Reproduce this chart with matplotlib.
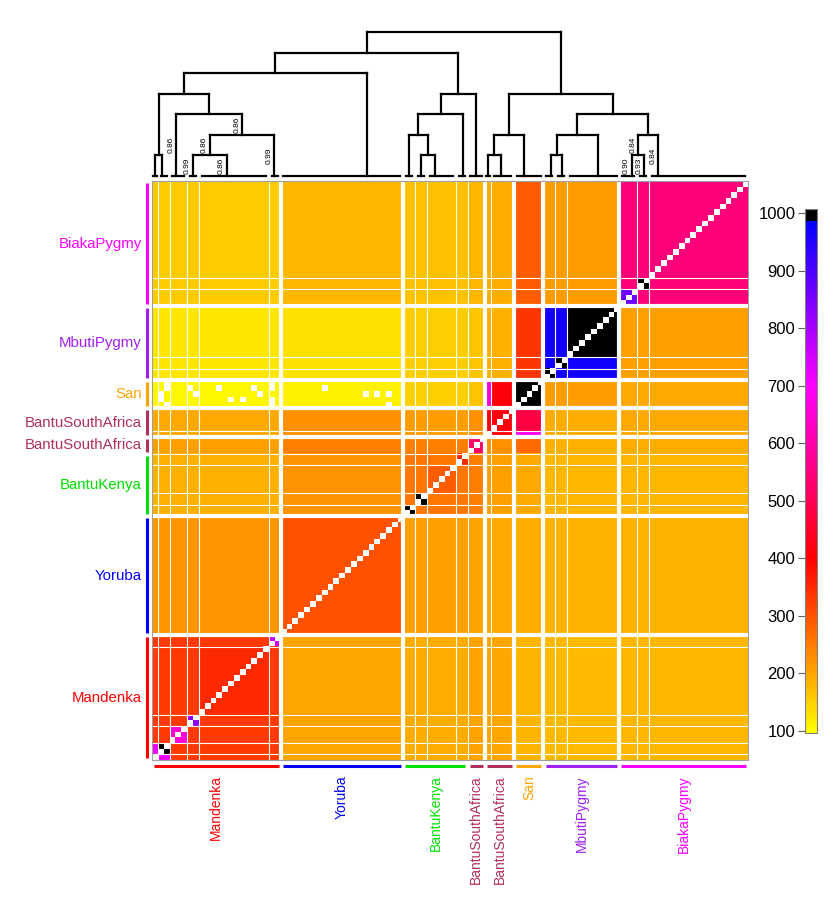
import numpy as np
import matplotlib
matplotlib.use("Agg")
import matplotlib.pyplot as plt
from matplotlib.colors import LinearSegmentedColormap, Normalize

plt.rcParams['font.family'] = ['Liberation Sans', 'DejaVu Sans']

# populations, in column order (left to right); rows run bottom to top
pop_names = ["Mandenka", "Yoruba", "BantuKenya", "BantuSouthAfrica",
             "BantuSouthAfrica", "San", "MbutiPygmy", "BiakaPygmy"]
pop_colors = ["#FF0000", "#0000FF", "#00E000", "#B03060",
              "#B03060", "#FFA500", "#A020F0", "#FF00FF"]
# population boundaries drawn with a thick white line (index of pop after the line)
thick_split = [1, 2, 4, 5, 6, 7]

# tree leaves (inferred clusters)
cluster_names = ["MandA", "MandB", "MandC", "MandD", "MandE", "MandF", "Yor",
                 "BKa", "BKb", "BKc", "BKd", "BSAs", "BSAa", "BSAb", "San",
                 "Mba", "Mbb", "Mbc", "Bia", "Bib", "Bic"]
cluster_pop = [0, 0, 0, 0, 0, 0, 1, 2, 2, 2, 2, 3, 4, 4, 5, 6, 6, 6, 7, 7, 7]
cluster_size = [1, 2, 3, 2, 12, 2, 21, 2, 2, 5, 2, 3, 1, 4, 5, 2, 2, 9, 3, 2, 17]
# leaf positions along the columns (in individuals)
leaf_pos = [0.5, 1.76, 4.1, 6.97, 12.78, 20.93, 36.75, 44.0, 46.0, 48.43,
            53.28, 55.4, 57.5, 59.73, 63.72, 68.29, 70.22, 76.28, 82.1, 84.25, 86.65]

# merges: (child, child, height)
merges = [("MandA", "MandB", 1), ("MandD", "MandE", 1), (22, "MandF", 2),
          ("MandC", 23, 3), (21, 24, 4), (25, "Yor", 5),
          ("BKb", "BKc", 1), ("BKa", 27, 2), (28, "BKd", 3), (29, "BSAs", 4),
          (26, 30, 6), ("BSAa", "BSAb", 1), (32, "San", 2),
          ("Mba", "Mbb", 1), (34, "Mbc", 2), ("Bia", "Bib", 1), (36, "Bic", 2),
          (35, 37, 3), (33, 38, 4), (31, 39, 7)]
# support values on branches (branch above the given node)
supports = {"MandC": "0.86", "MandD": "0.99", 22: "0.86", "MandE": "0.86",
            23: "0.86", "MandF": "0.99", "Bia": "0.90", 36: "0.84",
            "Bib": "0.93", "Bic": "0.84"}

# coancestry between populations: rows = recipient pop, cols = donor pop
pop_coanc = [
    # Mand  Yor   BK  BSAs  BSA   San  Mbuti Biaka
    [330, 200, 192, 202, 198, 182, 176, 180],    # Mandenka
    [218, 302, 207, 202, 197, 190, 185, 185],    # Yoruba
    [186, 222, 258, 248, 206, 196, 180, 180],    # BantuKenya
    [205, 245, 245, 480, 225, 272, 186, 190],    # BantuSouthAfrica (3)
    [195, 226, 210, 226, 415, 480, 190, 195],    # BantuSouthAfrica (5)
    [106, 112, 150, 165, 410, 1050, 212, 196],   # San
    [125, 132, 152, 165, 186, 335, 965, 207],    # MbutiPygmy
    [156, 180, 166, 180, 190, 290, 212, 545],    # BiakaPygmy
]
# cluster-level blocks that stand out (recipient cluster, donor cluster)
cluster_coanc = {("MandA", "MandB"): 720, ("MandB", "MandA"): 720,
                 ("MandB", "MandB"): 1050, ("MandC", "MandC"): 650,
                 ("MandD", "MandD"): 830, ("MandE", "MandE"): 350,
                 ("MandF", "MandF"): 760,
                 ("BKa", "BKa"): 1050, ("BKb", "BKb"): 1050,
                 ("BKc", "BKc"): 290, ("BKd", "BKd"): 350,
                 ("BSAs", "BSAs"): 520,
                 ("BSAa", "San"): 680, ("San", "BSAa"): 650,
                 ("Mba", "Mba"): 1050, ("Mbb", "Mbb"): 1050,
                 ("Mbc", "Mbc"): 1050,
                 ("Bia", "Bia"): 860, ("Bib", "Bib"): 1050}
# San individuals with very low coancestry to some West Africans (shown white)
low_cells = [(64, 1), (63, 1), (66, 2), (65, 2), (62, 2), (65, 6), (64, 7),
             (65, 11), (63, 13), (63, 15), (65, 17), (64, 18), (66, 20),
             (65, 20), (63, 20), (62, 20), (65, 29), (64, 36), (64, 38),
             (64, 40), (62, 40)]

cbar_ticks = [100, 200, 300, 400, 500, 600, 700, 800, 900, 1000]
cmap_stops = [96.5, 200, 400, 700, 987, 987, 1007]
cmap_cols = ["#FFFF00", "#FFA500", "#FF0000", "#FF00FF", "#0000FF", "#000000", "#000000"]

# ---- build matrix
ind_cluster = np.repeat(np.arange(len(cluster_size)), cluster_size)
ind_pop = np.array(cluster_pop)[ind_cluster]
n = len(ind_cluster)
coanc = np.array(pop_coanc, float)[ind_pop[:, None], ind_pop[None, :]]
for (rc, cc), v in cluster_coanc.items():
    rows = np.where(ind_cluster == cluster_names.index(rc))[0]
    cols = np.where(ind_cluster == cluster_names.index(cc))[0]
    coanc[np.ix_(rows, cols)] = v
for r, c in low_cells:
    coanc[r, c] = 90
np.fill_diagonal(coanc, np.nan)

norm = Normalize(vmin=cmap_stops[0], vmax=cmap_stops[-1])
cmap = LinearSegmentedColormap.from_list(
    "yrpb", [(norm(v), c) for v, c in zip(cmap_stops, cmap_cols)], N=512)
cmap.set_bad("white")
cmap.set_under("white")
cmap.set_over("black")

W, H = 830, 913
fig = plt.figure(figsize=(W / 100, H / 100), dpi=100)

ax = fig.add_axes([152 / W, 1 - 760 / H, 596 / W, 578.5 / H])
im = ax.imshow(coanc, origin="lower", extent=(0, n, 0, n), aspect="auto",
               cmap=cmap, norm=norm, interpolation="nearest")
ax.set_xlim(0, n)
ax.set_ylim(0, n)
ax.set_xticks([])
ax.set_yticks([])
for s in ax.spines.values():
    s.set_color("#A0A0A0")
    s.set_linewidth(0.8)

# separator lines
bounds = np.cumsum(cluster_size)[:-1]
pop_of_next = np.array(cluster_pop)[1:]
pop_of_prev = np.array(cluster_pop)[:-1]
for b, pn, pp in zip(bounds, pop_of_next, pop_of_prev):
    thick = (pn != pp) and (pn in thick_split)
    lw = 3.0 if thick else 0.8
    ax.axvline(b, color="white", lw=lw)
    ax.axhline(b, color="white", lw=lw)

# population labels and bars
pop_sizes = [sum(s for s, p in zip(cluster_size, cluster_pop) if p == k)
             for k in range(len(pop_names))]
pop_start = np.concatenate([[0], np.cumsum(pop_sizes)[:-1]])
ytr = ax.get_yaxis_transform()
xtr = ax.get_xaxis_transform()
for name, col, st, sz in zip(pop_names, pop_colors, pop_start, pop_sizes):
    mid = st + sz / 2
    ax.text(-0.0168, mid, name, transform=ytr, ha="right", va="center",
            color=col, fontsize=10.8)
    ax.plot([-0.0084, -0.0084], [st + 0.35, st + sz - 0.35], transform=ytr,
            color=col, lw=2.2, clip_on=False, solid_capstyle="butt")
    ax.text(mid, -0.026, name, transform=xtr, ha="center", va="top",
            rotation=90, color=col, fontsize=10)
    ax.plot([st + 0.35, st + sz - 0.35], [-0.0104, -0.0104], transform=xtr,
            color=col, lw=2.2, clip_on=False, solid_capstyle="butt")

# ---- dendrogram
dax = fig.add_axes([152 / W, 1 - 176 / H, 596 / W, (176 - 32.5) / H])
dax.set_xlim(0, n)
dax.set_ylim(0, 7)
dax.axis("off")

node_x = list(leaf_pos)
node_h = [0] * len(leaf_pos)
parent_h = {}
lkw = dict(color="black", lw=1.6, clip_on=False, solid_capstyle="projecting")


def nid(k):
    return cluster_names.index(k) if isinstance(k, str) else k


for a, b, h in merges:
    ia, ib = nid(a), nid(b)
    for i in (ia, ib):
        dax.plot([node_x[i], node_x[i]], [node_h[i], h], **lkw)
        parent_h[i] = h
    dax.plot([node_x[ia], node_x[ib]], [h, h], **lkw)
    node_x.append((node_x[ia] + node_x[ib]) / 2)
    node_h.append(h)

cl_start = np.concatenate([[0], np.cumsum(cluster_size)[:-1]])
for st, sz, lp in zip(cl_start, cluster_size, leaf_pos):
    x0, x1 = st + 0.5, st + sz - 0.5
    if sz == 1:
        x0, x1 = st + 0.2, st + 0.8
    dax.plot([min(x0, lp), max(x1, lp)], [0, 0], **lkw)

for k, lab in supports.items():
    i = nid(k)
    ymid = (node_h[i] + parent_h[i]) / 2
    dax.annotate(lab, (node_x[i], ymid), xytext=(-1.2, 0),
                 textcoords="offset points", rotation=90, ha="right",
                 va="center", fontsize=6, color="black")

# ---- colour bar
cax = fig.add_axes([805 / W, 1 - 733 / H, 12 / W, 524 / H])
cb = fig.colorbar(im, cax=cax)
cb.set_ticks(cbar_ticks)
cax.yaxis.set_ticks_position("left")
cax.yaxis.set_label_position("left")
cax.tick_params(labelsize=12, length=5, width=0.8, color="#606060", pad=2)
cb.outline.set_edgecolor("#808080")
cb.outline.set_linewidth(0.8)

fig.savefig("out.png", dpi=100)
